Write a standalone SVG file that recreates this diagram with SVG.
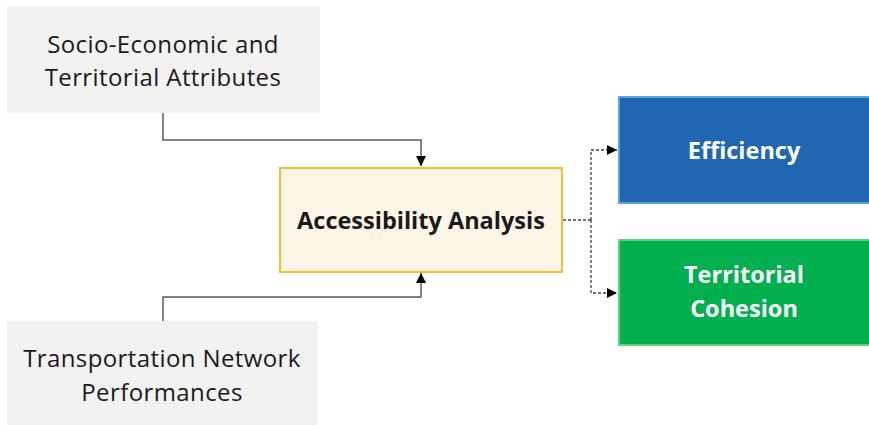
<svg xmlns="http://www.w3.org/2000/svg" width="869" height="425" viewBox="0 0 869 425">
<defs>
<style>
.t{font-family:"Open Sans","Noto Sans","Liberation Sans",sans-serif;font-size:24px;letter-spacing:0.4px;text-anchor:middle;fill:#1a1a1a}
.b{font-weight:bold;font-size:23.5px;letter-spacing:0}
.w{fill:#ffffff}
.grey{fill:#f2f2f1}
.line{fill:none;stroke:#595959;stroke-width:1.5}
.dash{fill:none;stroke:#404040;stroke-width:1.3;stroke-dasharray:3 2}
</style>
<marker id="ah" viewBox="0 0 10 10" refX="10" refY="5" markerWidth="10" markerHeight="10" markerUnits="userSpaceOnUse" orient="auto">
<path d="M0,0 L10,5 L0,10 Z" fill="#000"/>
</marker>
</defs>
<rect width="869" height="425" fill="#ffffff"/>
<g id="socio">
<rect class="grey" x="7" y="6" width="313" height="107"/>
<text class="t" x="163" y="53">Socio-Economic and</text>
<text class="t" x="163" y="86">Territorial Attributes</text>
</g>
<g id="transport">
<rect class="grey" x="7" y="321" width="311" height="104"/>
<text class="t" x="162" y="367">Transportation Network</text>
<text class="t" x="162" y="401">Performances</text>
</g>
<g id="accessibility">
<rect x="280" y="168" width="282" height="104" fill="#fdf6e7" stroke="#fbbd2e" stroke-width="2"/>
<text class="t b" x="421" y="229">Accessibility Analysis</text>
</g>
<g id="efficiency">
<rect x="619" y="97" width="252" height="106" fill="#2166b0" stroke="#5aa5dc" stroke-width="2"/>
<text class="t b w" x="744" y="159">Efficiency</text>
</g>
<g id="cohesion">
<rect x="619" y="240" width="252" height="105" fill="#00b04f" stroke="#5fd07f" stroke-width="2"/>
<text class="t b w" x="744" y="283">Territorial</text>
<text class="t b w" x="744" y="317">Cohesion</text>
</g>
<g id="connectors">
<path class="line" d="M163,113 V140 H421 V166" marker-end="url(#ah)"/>
<path class="line" d="M163,321 V297 H421 V273" marker-end="url(#ah)"/>
<path class="dash" d="M563,220 H591"/>
<path class="dash" d="M591,220 V150 H617" marker-end="url(#ah)"/>
<path class="dash" d="M591,220 V293 H617" marker-end="url(#ah)"/>
</g>
</svg>
